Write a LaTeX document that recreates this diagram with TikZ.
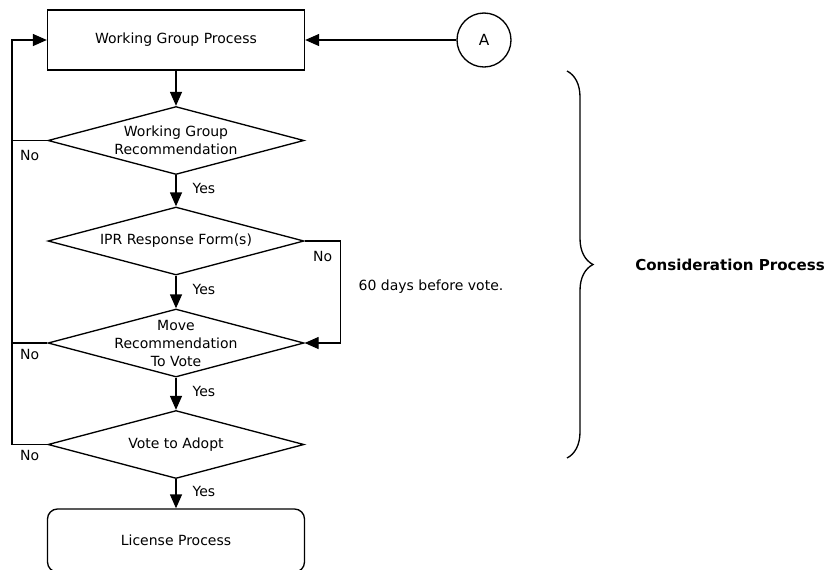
\documentclass[tikz,border=0pt]{standalone}
\usepackage{fontspec}
\setmainfont{DejaVu Sans}
\usetikzlibrary{shapes.geometric, arrows.meta, positioning, decorations.pathreplacing}

\begin{document}
\begin{tikzpicture}[
    x=0.75pt, y=-0.75pt,
    font=\fontsize{10.5}{13.5}\selectfont,
    process/.style={draw, line width=1pt, minimum width=192.75pt,
                    minimum height=45pt, align=center},
    decision/.style={draw, diamond, line width=1pt, minimum width=192pt,
                     minimum height=51pt, inner sep=0pt},
    terminal/.style={process, rounded corners=7.5pt, minimum height=47.25pt},
    connector/.style={draw, circle, line width=1pt, minimum size=40.5pt, inner sep=0pt},
    flow/.style={line width=1pt},
    arrow/.style={-{Triangle[length=10.5pt, width=9pt]}, line width=1pt},
    yeslabel/.style={anchor=west, inner sep=0pt, xshift=12pt, pos=0.42},
    nolabel/.style={anchor=north, inner sep=0pt, midway}
  ]
    \useasboundingbox (0,0) rectangle (828,569);

    % Working group
    \node[process] (wgp) at (176,40) {Working Group Process};
    \node[connector, font=\fontsize{11.5}{13}\selectfont] (A) at (484,40) {A};

    % Decisions
    \node[decision, label={[align=center]center:Working Group\\Recommendation}]
      (wgr) at (176,140.5) {};
    \node[decision, label=center:IPR Response Form(s)] (ipr) at (176,241) {};
    \node[decision, label={[align=center]center:Move\\Recommendation\\To Vote}]
      (move) at (176,343) {};
    \node[decision, label=center:Vote to Adopt] (vote) at (176,444.5) {};

    % License
    \node[terminal] (lic) at (176,540.5) {License Process};

    \node (note) at (431,287) {60 days before vote.};
    \node[font=\fontsize{11.3}{13}\selectfont\bfseries] (cp) at (730,265)
      {Consideration Process};

    \coordinate (back) at (12,444.5);
    \coordinate (btop) at (567,71);
    \coordinate (bbot) at (567,458);

    \draw[arrow] (A.west) -- (wgp.east);
    \draw[arrow] (wgp.south) -- (wgr.north);
    \draw[arrow] (wgr.south) -- node[yeslabel]{Yes} (ipr.north);
    \draw[arrow] (ipr.south) -- node[yeslabel]{Yes} (move.north);
    \draw[arrow] (move.south) -- node[yeslabel]{Yes} (vote.north);
    \draw[arrow] (vote.south) -- node[yeslabel]{Yes} (lic.north);

    \draw[arrow] (ipr.east) -- node[nolabel, yshift=-7pt]{No} ++(36,0) |- (move.east);
    \draw[flow] (wgr.west) -- node[nolabel, yshift=-7pt]{No} (wgr.west -| back);
    \draw[flow] (move.west) -- node[nolabel, yshift=-4.5pt]{No} (move.west -| back);
    \draw[arrow] (vote.west) -- node[nolabel, yshift=-3.5pt]{No} (back) |- (wgp.west);

    \draw[flow, decorate, decoration={brace, amplitude=19.5pt}] (btop) -- (bbot);
  \end{tikzpicture}
\end{document}
